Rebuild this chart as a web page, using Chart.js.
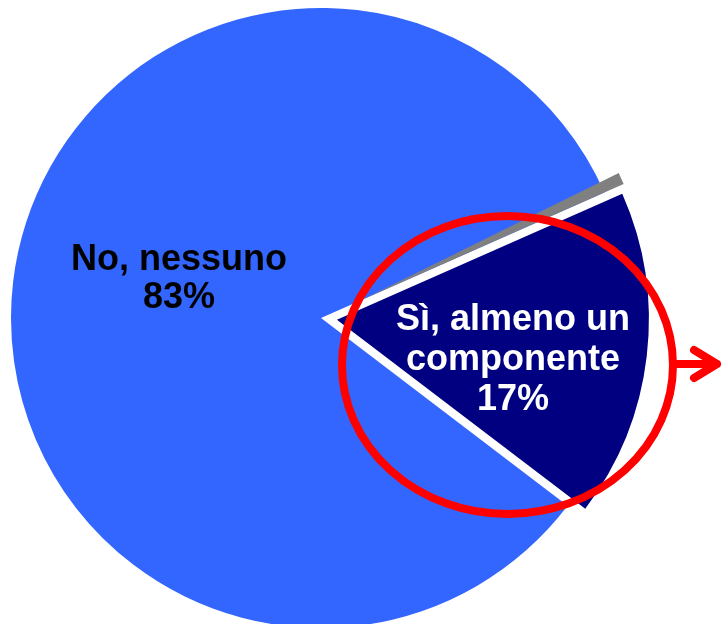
<!DOCTYPE html>
<html lang="it">
<head>
<meta charset="utf-8">
<title>Componenti</title>
<script src="https://cdn.jsdelivr.net/npm/chart.js@4.4.1/dist/chart.umd.min.js"></script>
<style>
  html, body { margin: 0; padding: 0; background: #fff; }
  #pieChart { display: block; }
</style>
</head>
<body>
<canvas id="pieChart" width="722" height="624"></canvas>
<script>
// Data
const categories = [['No, nessuno'], ['Sì, almeno un', 'componente']];
const values = [83, 17];
const sliceColors = ['#3366FF', '#000080'];
const labelColors = ['#000000', '#FFFFFF'];

// where each label block sits, measured from the pie centre
const labelAnchors = [{ dx: -142, dy: -42 }, { dx: 192, dy: 39 }];
const lineHeights = [38, 40];
const LABEL_FONT = 'bold 36px "Liberation Sans", Arial, sans-serif';
const CAP_HEIGHT = 26;

// Gray bevel along the cut edge of the big slice
const sliceEdge = {
    id: 'sliceEdge',
    afterDatasetsDraw(chart) {
        const arc = chart.getDatasetMeta(0).data[0];
        const { x, y, endAngle, outerRadius } = arc;
        const ux = Math.cos(endAngle), uy = Math.sin(endAngle);
        const nx = Math.sin(endAngle), ny = -Math.cos(endAngle);
        const d1 = 45, d2 = outerRadius + 21, t = 12;
        const ctx = chart.ctx;
        ctx.save();
        ctx.fillStyle = '#808080';
        ctx.beginPath();
        ctx.moveTo(x + ux * d1, y + uy * d1);
        ctx.lineTo(x + ux * d2, y + uy * d2);
        ctx.lineTo(x + ux * d2 + nx * t, y + uy * d2 + ny * t);
        ctx.closePath();
        ctx.fill();
        ctx.restore();
    }
};

// Slice labels: name lines + percentage
const sliceLabels = {
    id: 'sliceLabels',
    afterDatasetsDraw(chart) {
        const ctx = chart.ctx;
        const arcs = chart.getDatasetMeta(0).data;
        ctx.save();
        ctx.font = LABEL_FONT;
        ctx.textAlign = 'center';
        ctx.textBaseline = 'alphabetic';
        arcs.forEach((arc, i) => {
            const lines = categories[i].concat(values[i] + '%');
            const cx = arc.x + labelAnchors[i].dx;
            const cy = arc.y + labelAnchors[i].dy;
            ctx.fillStyle = labelColors[i];
            lines.forEach((line, k) => {
                const by = cy + (k - (lines.length - 1) / 2) * lineHeights[i] + CAP_HEIGHT / 2;
                ctx.fillText(line, cx, by);
            });
        });
        ctx.restore();
    }
};

// Red ring round the small slice and the arrow pointing right
const callout = {
    id: 'callout',
    afterDraw(chart) {
        const arc = chart.getDatasetMeta(0).data[1];
        const ctx = chart.ctx;
        const ex = arc.x + 186.5, ey = arc.y + 47;
        ctx.save();
        ctx.strokeStyle = '#FF0000';
        ctx.lineWidth = 8;
        ctx.lineCap = 'round';
        ctx.lineJoin = 'round';
        ctx.beginPath();
        ctx.ellipse(ex, ey, 165.5, 149, 0, 0, Math.PI * 2);
        ctx.stroke();

        const sx = ex + 165.5, tip = 717;
        ctx.beginPath();
        ctx.moveTo(sx, ey - 1);
        ctx.lineTo(tip, ey - 1);
        ctx.moveTo(tip - 23, ey - 15);
        ctx.lineTo(tip, ey - 1);
        ctx.lineTo(tip - 23, ey + 13);
        ctx.stroke();
        ctx.restore();
    }
};

const ctx = document.getElementById('pieChart').getContext('2d');
new Chart(ctx, {
    type: 'pie',
    data: {
        labels: categories.map(l => l.join(' ')),
        datasets: [{
            data: values,
            backgroundColor: sliceColors,
            borderWidth: 0,
            offset: [0, 64],
            clip: false
        }]
    },
    options: {
        responsive: false,
        animation: false,
        events: [],
        rotation: 127.3,
        radius: 310,
        layout: { padding: { left: 0, right: 80, top: 12, bottom: 0 } },
        plugins: {
            legend: { display: false },
            tooltip: { enabled: false }
        }
    },
    plugins: [sliceEdge, sliceLabels, callout]
});
</script>
</body>
</html>
